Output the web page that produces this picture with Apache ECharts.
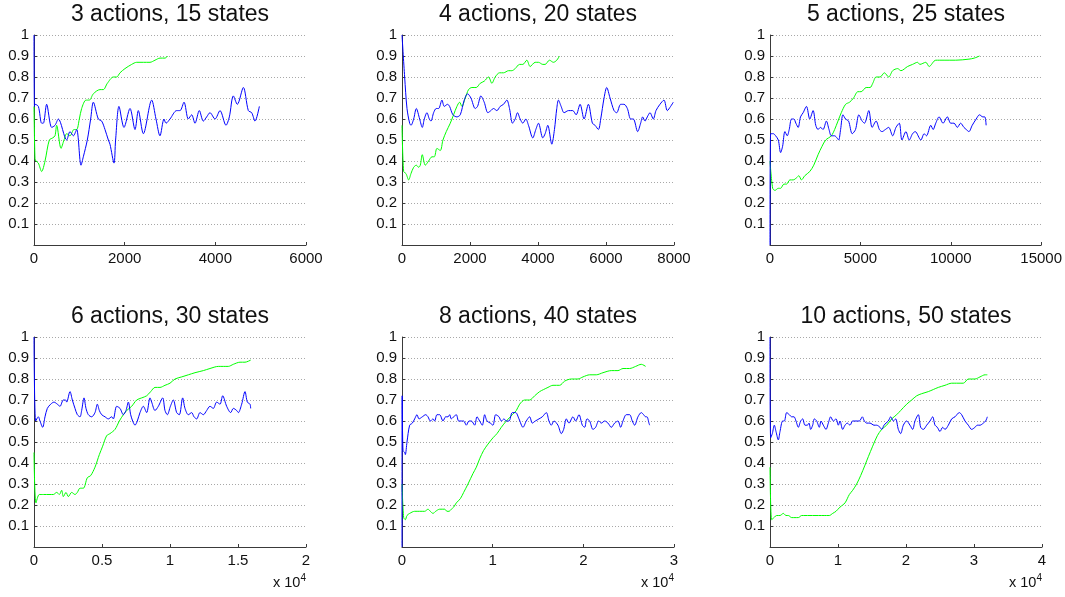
<!DOCTYPE html>
<html>
<head>
<meta charset="utf-8">
<script src="https://cdn.jsdelivr.net/npm/echarts@6/dist/echarts.min.js"></script>
<style>
  html, body { margin: 0; padding: 0; background: #ffffff; }
  #chart { width: 1065px; height: 597px; }
</style>
</head>
<body>
<div id="chart"></div>
<script>
// Panel titles
const titles = [
  '3 actions, 15 states', '4 actions, 20 states', '5 actions, 25 states',
  '6 actions, 30 states', '8 actions, 40 states', '10 actions, 50 states'
];

// x-axis extents, tick spacing and the power of ten used for the tick labels
const xMax = [6000, 8000, 15000, 20000, 30000, 40000];
const xStep = [2000, 2000, 5000, 5000, 10000, 10000];
const xExponent = [0, 0, 0, 4, 4, 4];

// y-axis ticks (0 is left unlabelled)
const yTicks = [0.1, 0.2, 0.3, 0.4, 0.5, 0.6, 0.7, 0.8, 0.9, 1];

// Green curves: [step, value]
const green3 = [[0,0.66],[22,0.41],[44,0.40],[96,0.39],[169,0.35],[243,0.40],[338,0.50],[412,0.51],[463,0.52],[500,0.57],[596,0.46],[662,0.50],[721,0.53],[794,0.52],[882,0.55],[941,0.55],[1000,0.60],[1051,0.65],[1147,0.69],[1221,0.69],[1309,0.72],[1456,0.74],[1529,0.74],[1618,0.77],[1750,0.80],[1824,0.80],[1897,0.82],[2007,0.84],[2154,0.86],[2265,0.87],[2412,0.87],[2559,0.87],[2669,0.88],[2779,0.89],[2890,0.89],[2949,0.90]];

const green4 = [[0,0.57],[49,0.35],[117,0.34],[196,0.31],[264,0.34],[343,0.37],[421,0.38],[490,0.37],[538,0.38],[597,0.43],[685,0.38],[783,0.40],[881,0.42],[950,0.42],[1028,0.46],[1126,0.45],[1204,0.50],[1302,0.54],[1420,0.58],[1517,0.62],[1615,0.66],[1694,0.68],[1762,0.66],[1860,0.70],[1958,0.74],[2056,0.75],[2183,0.75],[2301,0.77],[2418,0.78],[2545,0.80],[2643,0.77],[2741,0.80],[2868,0.82],[2986,0.82],[3133,0.83],[3231,0.83],[3329,0.84],[3456,0.86],[3554,0.86],[3671,0.88],[3769,0.85],[3916,0.87],[4014,0.87],[4141,0.86],[4210,0.86],[4337,0.88],[4454,0.87],[4552,0.88],[4631,0.90]];

const green5 = [[0,0.40],[147,0.27],[275,0.26],[459,0.27],[587,0.27],[770,0.29],[917,0.29],[1100,0.31],[1284,0.31],[1467,0.32],[1596,0.33],[1742,0.31],[1926,0.33],[2201,0.35],[2421,0.38],[2659,0.43],[2879,0.47],[3081,0.50],[3393,0.52],[3576,0.55],[3760,0.59],[3943,0.63],[4182,0.67],[4402,0.68],[4622,0.70],[4860,0.73],[5044,0.73],[5319,0.75],[5539,0.75],[5685,0.77],[5869,0.80],[6089,0.80],[6327,0.82],[6566,0.80],[6786,0.83],[7061,0.84],[7244,0.83],[7611,0.85],[7886,0.86],[8161,0.87],[8290,0.86],[8620,0.87],[8803,0.85],[9170,0.88],[9629,0.88],[10270,0.88],[11004,0.885],[11300,0.89],[11590,0.90]];

const green6 = [[0,0.45],[147,0.21],[392,0.25],[686,0.25],[931,0.25],[1176,0.25],[1422,0.25],[1667,0.26],[1863,0.25],[2034,0.27],[2157,0.24],[2353,0.26],[2525,0.24],[2770,0.26],[3015,0.25],[3186,0.26],[3382,0.28],[3627,0.28],[3922,0.33],[4167,0.34],[4485,0.38],[4804,0.44],[5049,0.48],[5343,0.53],[5588,0.54],[5956,0.56],[6275,0.60],[6569,0.63],[6814,0.65],[7181,0.67],[7549,0.70],[7917,0.71],[8284,0.72],[8579,0.74],[8897,0.76],[9265,0.76],[9632,0.77],[10000,0.78],[10368,0.80],[10858,0.81],[11348,0.82],[11838,0.83],[12451,0.84],[12941,0.85],[13554,0.86],[13922,0.86],[14290,0.86],[14657,0.87],[15147,0.88],[15515,0.88],[15932,0.89]];

const green8 = [[0,0.30],[184,0.14],[368,0.13],[551,0.15],[846,0.16],[1397,0.17],[1948,0.17],[2500,0.17],[2867,0.18],[3125,0.17],[3419,0.16],[3713,0.17],[4154,0.18],[4705,0.18],[4963,0.17],[5183,0.17],[5440,0.18],[5698,0.19],[5992,0.21],[6433,0.23],[6801,0.26],[7278,0.30],[7830,0.35],[8198,0.38],[8565,0.42],[9006,0.46],[9484,0.49],[10035,0.52],[10477,0.54],[10954,0.57],[11506,0.60],[12168,0.63],[12609,0.65],[12976,0.68],[13528,0.70],[14079,0.70],[14630,0.72],[15182,0.74],[15623,0.75],[16101,0.76],[16652,0.77],[17387,0.77],[17939,0.79],[18674,0.80],[19409,0.80],[19961,0.81],[20696,0.82],[21431,0.82],[22166,0.83],[23085,0.84],[23820,0.84],[24372,0.85],[25107,0.85],[25769,0.86],[26393,0.87],[26871,0.86]];

const green10 = [[0,0.38],[245,0.13],[588,0.14],[980,0.15],[1471,0.15],[1961,0.16],[2353,0.15],[2696,0.15],[3186,0.14],[3677,0.14],[4167,0.14],[4657,0.15],[5147,0.15],[5882,0.15],[6618,0.15],[7108,0.15],[7598,0.15],[8333,0.15],[8726,0.15],[9216,0.16],[9706,0.17],[10294,0.19],[11030,0.21],[11667,0.25],[12157,0.27],[12745,0.30],[13333,0.34],[13971,0.39],[14461,0.43],[15098,0.48],[15784,0.53],[16422,0.56],[17157,0.58],[17892,0.61],[18627,0.63],[19216,0.65],[20098,0.68],[20833,0.70],[21569,0.72],[22304,0.73],[23284,0.74],[24020,0.75],[24755,0.76],[25735,0.77],[26716,0.78],[27451,0.78],[28431,0.78],[29167,0.80],[30147,0.80],[30882,0.81],[31618,0.82],[31961,0.82]];

// Blue curves: [step, value]
const blue3 = [[0,1.0],[10,0.66],[22,0.67],[96,0.66],[169,0.58],[206,0.58],[279,0.67],[390,0.56],[463,0.57],[537,0.60],[721,0.50],[794,0.54],[868,0.52],[941,0.55],[1037,0.38],[1088,0.42],[1176,0.50],[1250,0.60],[1309,0.68],[1419,0.60],[1493,0.59],[1566,0.55],[1640,0.50],[1676,0.48],[1765,0.39],[1800,0.50],[1875,0.66],[1985,0.56],[2118,0.65],[2228,0.55],[2301,0.64],[2412,0.53],[2596,0.69],[2691,0.60],[2779,0.52],[2868,0.60],[2912,0.58],[3000,0.60],[3147,0.64],[3221,0.64],[3309,0.68],[3404,0.60],[3478,0.62],[3551,0.58],[3647,0.64],[3735,0.59],[3809,0.61],[3882,0.63],[3993,0.60],[4103,0.64],[4235,0.57],[4309,0.61],[4397,0.71],[4485,0.67],[4618,0.75],[4728,0.64],[4802,0.63],[4875,0.59],[4971,0.66]];

const blue4 = [[0,1.0],[78,0.80],[147,0.65],[225,0.58],[264,0.57],[343,0.60],[421,0.65],[519,0.60],[597,0.56],[656,0.60],[734,0.63],[803,0.60],[852,0.59],[930,0.63],[1008,0.65],[1077,0.65],[1175,0.69],[1243,0.66],[1341,0.67],[1400,0.66],[1498,0.62],[1615,0.61],[1713,0.62],[1831,0.69],[1929,0.72],[2027,0.70],[2154,0.65],[2222,0.66],[2320,0.71],[2418,0.68],[2526,0.63],[2614,0.64],[2692,0.65],[2790,0.64],[2888,0.66],[2986,0.67],[3084,0.69],[3162,0.65],[3250,0.58],[3329,0.60],[3397,0.63],[3475,0.60],[3554,0.58],[3642,0.60],[3720,0.57],[3847,0.51],[3936,0.55],[4014,0.58],[4141,0.51],[4210,0.53],[4288,0.57],[4406,0.48],[4484,0.55],[4552,0.65],[4601,0.69],[4680,0.66],[4768,0.63],[4895,0.64],[5022,0.64],[5120,0.62],[5238,0.67],[5355,0.60],[5482,0.67],[5600,0.58],[5678,0.57],[5776,0.55],[5845,0.60],[5943,0.70],[6021,0.75],[6119,0.70],[6236,0.64],[6315,0.63],[6432,0.67],[6530,0.67],[6628,0.65],[6726,0.60],[6804,0.60],[6931,0.54],[7019,0.58],[7078,0.61],[7147,0.59],[7215,0.61],[7294,0.63],[7391,0.60],[7470,0.64],[7587,0.67],[7705,0.69],[7803,0.64],[7901,0.66],[7979,0.68]];

const blue5 = [[0,0.0],[37,0.53],[183,0.53],[312,0.52],[459,0.50],[587,0.44],[697,0.47],[825,0.54],[954,0.52],[1064,0.55],[1192,0.60],[1320,0.60],[1431,0.58],[1559,0.56],[1687,0.61],[1834,0.63],[2017,0.66],[2201,0.60],[2384,0.64],[2531,0.57],[2659,0.55],[2788,0.56],[2934,0.55],[3118,0.59],[3265,0.55],[3393,0.52],[3576,0.52],[3705,0.51],[3796,0.50],[3906,0.55],[4035,0.62],[4182,0.60],[4347,0.59],[4548,0.53],[4732,0.55],[4915,0.62],[5099,0.59],[5227,0.58],[5465,0.64],[5649,0.56],[5869,0.59],[6052,0.55],[6199,0.54],[6382,0.55],[6566,0.56],[6786,0.52],[6969,0.56],[7153,0.58],[7299,0.50],[7519,0.54],[7703,0.50],[7886,0.53],[8033,0.54],[8345,0.50],[8528,0.53],[8656,0.52],[8895,0.57],[9023,0.55],[9170,0.58],[9353,0.61],[9573,0.58],[9812,0.61],[9995,0.58],[10179,0.58],[10362,0.56],[10545,0.58],[10729,0.56],[10857,0.55],[11004,0.54],[11187,0.57],[11407,0.60],[11590,0.62],[11774,0.61],[11884,0.61],[11957,0.57]];

const blue6 = [[0,1.0],[123,0.60],[319,0.62],[441,0.60],[637,0.57],[809,0.62],[980,0.66],[1226,0.68],[1471,0.69],[1716,0.68],[1912,0.67],[2157,0.70],[2328,0.70],[2402,0.69],[2647,0.74],[2819,0.70],[3015,0.66],[3186,0.63],[3382,0.62],[3505,0.65],[3677,0.71],[3824,0.66],[3995,0.63],[4240,0.62],[4485,0.64],[4657,0.68],[4804,0.65],[4976,0.63],[5221,0.62],[5466,0.61],[5711,0.62],[5833,0.61],[6078,0.67],[6324,0.66],[6569,0.63],[6765,0.65],[6936,0.69],[7108,0.63],[7255,0.60],[7427,0.58],[7598,0.60],[7794,0.64],[8039,0.67],[8284,0.64],[8529,0.71],[8652,0.69],[8897,0.65],[9142,0.67],[9461,0.71],[9632,0.65],[9804,0.63],[10030,0.67],[10245,0.70],[10490,0.64],[10686,0.63],[10931,0.71],[11103,0.66],[11348,0.63],[11593,0.64],[11765,0.62],[11961,0.61],[12206,0.64],[12451,0.63],[12696,0.65],[12941,0.67],[13186,0.66],[13432,0.69],[13677,0.68],[13873,0.72],[14167,0.67],[14461,0.64],[14657,0.66],[14902,0.65],[15025,0.64],[15270,0.68],[15515,0.74],[15687,0.69],[15883,0.68],[15932,0.66]];

const blue8 = [[0,0.0],[20,0.72],[110,0.46],[294,0.45],[368,0.44],[551,0.50],[846,0.58],[1140,0.59],[1397,0.61],[1654,0.63],[1875,0.61],[2242,0.62],[2610,0.63],[2867,0.62],[3125,0.60],[3419,0.61],[3602,0.60],[3860,0.63],[4154,0.63],[4521,0.60],[4816,0.62],[5073,0.62],[5257,0.63],[5440,0.61],[5698,0.62],[5992,0.63],[6249,0.60],[6543,0.60],[6801,0.60],[7095,0.58],[7389,0.60],[7646,0.60],[8014,0.58],[8271,0.62],[8565,0.60],[8859,0.58],[9116,0.63],[9374,0.60],[9741,0.59],[10035,0.58],[10330,0.63],[10697,0.62],[10954,0.60],[11249,0.61],[11506,0.60],[11800,0.60],[12168,0.64],[12535,0.64],[12903,0.61],[13344,0.57],[13711,0.60],[14079,0.62],[14373,0.59],[14704,0.60],[15108,0.61],[15476,0.62],[15917,0.64],[16211,0.60],[16468,0.58],[16763,0.60],[17200,0.58],[17571,0.54],[17829,0.56],[18123,0.61],[18417,0.59],[18858,0.62],[19152,0.60],[19520,0.63],[19888,0.58],[20144,0.57],[20402,0.61],[20696,0.60],[21063,0.56],[21357,0.57],[21688,0.60],[21982,0.59],[22350,0.60],[22718,0.59],[23085,0.57],[23453,0.59],[23820,0.60],[24115,0.57],[24372,0.60],[24739,0.63],[25107,0.63],[25401,0.60],[25658,0.58],[26026,0.62],[26393,0.64],[26651,0.63],[26872,0.62],[27019,0.62],[27239,0.59],[27313,0.58]];

const blue10 = [[0,1.0],[98,0.52],[343,0.54],[637,0.58],[882,0.55],[1226,0.51],[1471,0.55],[1863,0.60],[2108,0.60],[2451,0.64],[2843,0.63],[3186,0.62],[3529,0.62],[3824,0.60],[4167,0.57],[4510,0.60],[4804,0.61],[5147,0.58],[5490,0.58],[5735,0.59],[5980,0.56],[6275,0.58],[6520,0.61],[6863,0.60],[7255,0.57],[7500,0.60],[7843,0.58],[8235,0.56],[8579,0.59],[8922,0.62],[9314,0.60],[9706,0.61],[10049,0.58],[10294,0.60],[10686,0.56],[11030,0.58],[11373,0.59],[11765,0.58],[12157,0.60],[12647,0.60],[13137,0.60],[13579,0.62],[13873,0.60],[14216,0.59],[14706,0.59],[15294,0.58],[15686,0.58],[16177,0.57],[16422,0.56],[16765,0.58],[17059,0.59],[17402,0.60],[17745,0.62],[18137,0.60],[18481,0.61],[18873,0.56],[19216,0.54],[19608,0.58],[20098,0.60],[20588,0.58],[20981,0.56],[21324,0.60],[21814,0.63],[22157,0.57],[22549,0.56],[23039,0.58],[23530,0.60],[23922,0.62],[24265,0.58],[24608,0.57],[25000,0.55],[25392,0.57],[25735,0.56],[26226,0.58],[26716,0.61],[27206,0.62],[27843,0.64],[28186,0.63],[28677,0.60],[29167,0.58],[29657,0.56],[30147,0.57],[30490,0.58],[30882,0.58],[31373,0.59],[31716,0.60],[31961,0.62]];

const greenRuns = [green3, green4, green5, green6, green8, green10];
const blueRuns = [blue3, blue4, blue5, blue6, blue8, blue10];

// ---- layout ----
const FONT = 'Liberation Sans, Arial, Helvetica, sans-serif';
const colLeft = [34, 402, 770];
const rowTop = [35, 337];
const plotW = 272, plotH = 210;
const axisColor = '#3a3a3a';

const grids = [], xAxes = [], yAxes = [], series = [], titleList = [];

titles.forEach((t, i) => {
  const col = i % 3, row = Math.floor(i / 3);
  const left = colLeft[col], top = rowTop[row];
  grids.push({ left: left, top: top, width: plotW, height: plotH, containLabel: false });

  titleList.push({
    text: t,
    left: left + plotW / 2,
    top: row === 0 ? 2 : 304,
    textAlign: 'center',
    padding: 0,
    textStyle: { fontFamily: FONT, fontSize: 23, fontWeight: 'normal', color: '#111', lineHeight: 26 }
  });

  const exp = xExponent[i];
  const xa = {
    type: 'value', gridIndex: i, min: 0, max: xMax[i], interval: xStep[i],
    axisLine: { show: true, onZero: false, lineStyle: { color: axisColor, width: 1 } },
    axisTick: { show: true, inside: true, length: 3, lineStyle: { color: axisColor } },
    splitLine: { show: false },
    axisLabel: {
      show: true, margin: 6, fontFamily: FONT, fontSize: 15, color: '#111',
      formatter: v => exp ? String(+(v / Math.pow(10, exp)).toFixed(2)) : String(v)
    }
  };
  if (exp) {
    xa.name = '{a|x 10}{b|' + exp + '}';
    xa.nameLocation = 'end';
    xa.nameGap = 0;
    xa.nameTextStyle = {
      align: 'right', verticalAlign: 'top', padding: [26, 0, 0, 0],
      rich: {
        a: { fontFamily: FONT, fontSize: 14.5, color: '#111', lineHeight: 19 },
        b: { fontFamily: FONT, fontSize: 10, color: '#111', verticalAlign: 'top', lineHeight: 10 }
      }
    };
  }
  xAxes.push(xa);

  yAxes.push({
    type: 'value', gridIndex: i, min: 0, max: 1, interval: 0.1,
    axisLine: { show: true, onZero: false, lineStyle: { color: axisColor, width: 1 } },
    axisTick: { show: true, inside: true, length: 3, lineStyle: { color: axisColor } },
    splitLine: { show: true, lineStyle: { color: '#a8a8a8', width: 1, type: [1, 2] } },
    axisLabel: {
      show: true, margin: 5, fontFamily: FONT, fontSize: 15, color: '#111',
      formatter: v => {
        const r = Math.round(v * 10) / 10;
        return yTicks.indexOf(r) >= 0 ? String(r) : '';
      }
    }
  });

  series.push({
    type: 'line', xAxisIndex: i, yAxisIndex: i, data: greenRuns[i],
    showSymbol: false, symbol: 'none', smooth: 0.3, z: 2,
    lineStyle: { color: '#00ff00', width: 1 }, itemStyle: { color: '#00ff00' }
  });
  series.push({
    type: 'line', xAxisIndex: i, yAxisIndex: i, data: blueRuns[i],
    showSymbol: false, symbol: 'none', smooth: 0.3, z: 3,
    lineStyle: { color: '#0000ff', width: 1 }, itemStyle: { color: '#0000ff' }
  });
});

const chart = echarts.init(document.getElementById('chart'), null, { renderer: 'canvas' });
chart.setOption({
  backgroundColor: '#ffffff',
  animation: false,
  title: titleList,
  grid: grids,
  xAxis: xAxes,
  yAxis: yAxes,
  series: series
});
</script>
</body>
</html>
